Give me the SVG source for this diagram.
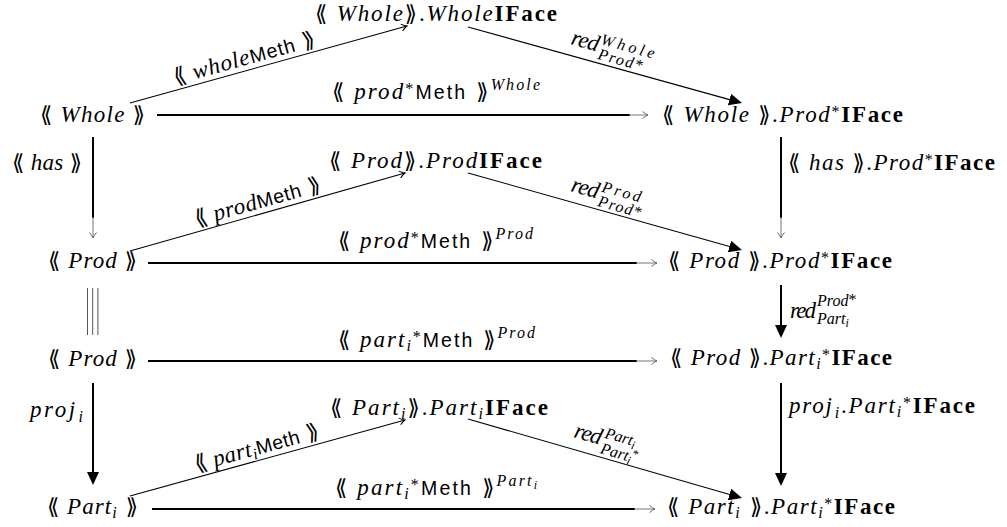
<svg xmlns="http://www.w3.org/2000/svg" width="1007" height="527" viewBox="0 0 1007 527">
<defs>
<style>
text { font-family: "Liberation Serif", "DejaVu Serif", serif; font-size: 23px; font-style: italic; fill: #000; }
.up { font-style: normal; }
.bf { font-weight: bold; font-style: normal; font-size: 23px; }
.sf { font-family: "Liberation Sans", "DejaVu Sans", sans-serif; font-style: normal; font-size: 19.5px; }
.br { font-family: "DejaVu Sans", sans-serif; font-style: normal; font-size: 22px; }
.sc { font-size: 16px; }
.ss { font-size: 12px; }
.thick { stroke: #000; stroke-width: 2; fill: none; }
.thin { stroke: #000; stroke-width: 1.1; fill: none; }
.tip { stroke: #777; stroke-width: 1; fill: none; }
.eq { stroke: #555; stroke-width: 1; }
</style>
<marker id="smallg" markerUnits="userSpaceOnUse" viewBox="-7 -5 8 10" refX="0" refY="0" markerWidth="8" markerHeight="10" orient="auto">
<path d="M-5.5,-3.5 Q-2,-0.6 0,0 Q-2,0.6 -5.5,3.5" fill="none" stroke="#666" stroke-width="1"/>
</marker>
<marker id="smallb" markerUnits="userSpaceOnUse" viewBox="-7 -5 8 10" refX="0" refY="0" markerWidth="8" markerHeight="10" orient="auto">
<path d="M-5.5,-3.5 Q-2,-0.6 0,0 Q-2,0.6 -5.5,3.5" fill="none" stroke="#000" stroke-width="1"/>
</marker>
<marker id="big" markerUnits="userSpaceOnUse" viewBox="0 -6 13 12" refX="2" refY="0" markerWidth="13" markerHeight="12" orient="auto">
<path d="M0,-6 L13,0 L0,6 z" fill="#000"/>
</marker>
</defs>

<g id="n-whole-iface"><text x="315" y="21" textLength="242"><tspan class="br">⟪</tspan> Whole<tspan class="br">⟫</tspan><tspan class="up">.</tspan>Whole<tspan class="bf">IFace</tspan></text></g>
<g id="n-whole"><text x="40" y="122" textLength="105"><tspan class="br">⟪</tspan> Whole <tspan class="br">⟫</tspan></text></g>
<g id="n-whole-prodiface"><text x="662" y="122" textLength="241"><tspan class="br">⟪</tspan> Whole <tspan class="br">⟫</tspan><tspan class="up">.</tspan>Prod<tspan class="sc up" dy="-5">*</tspan><tspan class="bf" dy="5">IFace</tspan></text></g>
<g id="n-prod-iface"><text x="329" y="168" textLength="213"><tspan class="br">⟪</tspan> Prod<tspan class="br">⟫</tspan><tspan class="up">.</tspan>Prod<tspan class="bf">IFace</tspan></text></g>
<g id="n-prod"><text x="48" y="268" textLength="89"><tspan class="br">⟪</tspan> Prod <tspan class="br">⟫</tspan></text></g>
<g id="n-prod-prodiface"><text x="668" y="268" textLength="224"><tspan class="br">⟪</tspan> Prod <tspan class="br">⟫</tspan><tspan class="up">.</tspan>Prod<tspan class="sc up" dy="-5">*</tspan><tspan class="bf" dy="5">IFace</tspan></text></g>
<g id="n-prod-2"><text x="48" y="366" textLength="89"><tspan class="br">⟪</tspan> Prod <tspan class="br">⟫</tspan></text></g>
<g id="n-prod-partiface"><text x="670" y="365" textLength="222"><tspan class="br">⟪</tspan> Prod <tspan class="br">⟫</tspan><tspan class="up">.</tspan>Part<tspan class="sc" dy="4">i</tspan><tspan class="sc up" dy="-9">*</tspan><tspan class="bf" dy="5">IFace</tspan></text></g>
<g id="n-part-iface"><text x="330" y="415" textLength="218"><tspan class="br">⟪</tspan> Part<tspan class="sc" dy="4">i</tspan><tspan class="br" dy="-4">⟫</tspan><tspan class="up">.</tspan>Part<tspan class="sc" dy="4">i</tspan><tspan class="bf" dy="-4">IFace</tspan></text></g>
<g id="n-part"><text x="47" y="514" textLength="91"><tspan class="br">⟪</tspan> Part<tspan class="sc" dy="4">i</tspan><tspan class="br" dy="-4"> ⟫</tspan></text></g>
<g id="n-part-partiface"><text x="667" y="514" textLength="228"><tspan class="br">⟪</tspan> Part<tspan class="sc" dy="4">i</tspan><tspan class="br" dy="-4"> ⟫</tspan><tspan class="up">.</tspan>Part<tspan class="sc" dy="4">i</tspan><tspan class="sc up" dy="-9">*</tspan><tspan class="bf" dy="5">IFace</tspan></text></g>

<g id="connectors">
<line class="thick" x1="157" y1="115" x2="630" y2="115"/>
<line class="tip" x1="629" y1="115" x2="648" y2="115" marker-end="url(#smallg)"/>
<line class="thick" x1="148" y1="263" x2="637" y2="263"/>
<line class="tip" x1="636" y1="263" x2="657" y2="263" marker-end="url(#smallg)"/>
<line class="thick" x1="148" y1="361" x2="637" y2="361"/>
<line class="tip" x1="636" y1="361" x2="657" y2="361" marker-end="url(#smallg)"/>
<line class="thick" x1="152" y1="509" x2="635" y2="509"/>
<line class="tip" x1="634" y1="509" x2="655" y2="509" marker-end="url(#smallg)"/>
<line class="thick" x1="93" y1="137" x2="93" y2="218"/>
<line class="tip" x1="93" y1="217" x2="93" y2="238" marker-end="url(#smallg)"/>
<line class="thick" x1="781" y1="137" x2="781" y2="218"/>
<line class="tip" x1="781" y1="217" x2="781" y2="238" marker-end="url(#smallg)"/>
<line class="eq" x1="87.5" y1="288" x2="87.5" y2="335"/>
<line class="eq" x1="92.7" y1="288" x2="92.7" y2="335"/>
<line class="eq" x1="97.9" y1="288" x2="97.9" y2="335"/>
<line class="thick" x1="93" y1="383" x2="93" y2="474" marker-end="url(#big)"/>
<line class="thick" x1="781" y1="285" x2="781" y2="327" marker-end="url(#big)"/>
<line class="thick" x1="781" y1="383" x2="781" y2="475" marker-end="url(#big)"/>
<line class="thin" x1="130" y1="103" x2="407" y2="26" marker-end="url(#smallb)"/>
<line class="thin" x1="468" y1="27" x2="731.4" y2="100.1" marker-end="url(#big)"/>
<line class="thin" x1="130" y1="251" x2="405" y2="173" marker-end="url(#smallb)"/>
<line class="thin" x1="468" y1="173" x2="731.4" y2="247" marker-end="url(#big)"/>
<line class="thin" x1="130" y1="496" x2="405" y2="420" marker-end="url(#smallb)"/>
<line class="thin" x1="468" y1="419" x2="731.4" y2="495" marker-end="url(#big)"/>
</g>

<g id="edge-labels">
<text x="332" y="99" textLength="208"><tspan class="br">⟪</tspan> prod<tspan class="sc up" dy="-5">*</tspan><tspan class="sf" dy="5">Meth</tspan><tspan class="br"> ⟫</tspan><tspan class="sc" dy="-9">Whole</tspan></text>
<text x="338" y="248" textLength="195"><tspan class="br">⟪</tspan> prod<tspan class="sc up" dy="-5">*</tspan><tspan class="sf" dy="5">Meth</tspan><tspan class="br"> ⟫</tspan><tspan class="sc" dy="-9">Prod</tspan></text>
<text x="338" y="347" textLength="197"><tspan class="br">⟪</tspan> part<tspan class="sc" dy="4">i</tspan><tspan class="sc up" dy="-9">*</tspan><tspan class="sf" dy="5">Meth</tspan><tspan class="br"> ⟫</tspan><tspan class="sc" dy="-9">Prod</tspan></text>
<text x="335" y="495" textLength="202"><tspan class="br">⟪</tspan> part<tspan class="sc" dy="4">i</tspan><tspan class="sc up" dy="-9">*</tspan><tspan class="sf" dy="5">Meth</tspan><tspan class="br"> ⟫</tspan><tspan class="sc" dy="-9">Part</tspan><tspan class="ss" dy="3">i</tspan></text>

<text x="246" y="65" text-anchor="middle" textLength="146" transform="rotate(-15.5 246 65)"><tspan class="br">⟪</tspan> whole<tspan class="sf">Meth</tspan><tspan class="br"> ⟫</tspan></text>
<text x="259.5" y="208.5" text-anchor="middle" textLength="130" transform="rotate(-15.8 259.5 208.5)"><tspan class="br">⟪</tspan> prod<tspan class="sf">Meth</tspan><tspan class="br"> ⟫</tspan></text>
<text x="258.5" y="454.5" text-anchor="middle" textLength="128" transform="rotate(-15.45 258.5 454.5)"><tspan class="br">⟪</tspan> part<tspan class="sc" dy="4">i</tspan><tspan class="sf" dy="-4">Meth</tspan><tspan class="br"> ⟫</tspan></text>

<g transform="translate(570 44) rotate(15.5)">
<text x="0" y="0" textLength="28">red</text>
<text class="sc" x="29" y="-8" textLength="55">Whole</text>
<text class="sc" x="30" y="7" textLength="46">Prod<tspan class="up">*</tspan></text>
</g>
<g transform="translate(570 191) rotate(15.7)">
<text x="0" y="0" textLength="28">red</text>
<text class="sc" x="30" y="-8" textLength="40">Prod</text>
<text class="sc" x="30" y="7" textLength="45">Prod<tspan class="up">*</tspan></text>
</g>
<g transform="translate(573 437) rotate(16.1)">
<text x="0" y="0" textLength="28">red</text>
<text class="sc" x="30" y="-8">Part<tspan class="ss" dy="3">i</tspan></text>
<text class="sc" x="30" y="8">Part<tspan class="ss" dy="3">i</tspan><tspan class="ss up" dy="-8">*</tspan></text>
</g>

<text x="790" y="318" textLength="26">red</text>
<text class="sc" x="817" y="306">Prod<tspan class="up" dy="-1">*</tspan></text>
<text class="sc" x="817" y="324">Part<tspan class="ss" dy="3">i</tspan></text>

<text x="12" y="170" textLength="70"><tspan class="br">⟪</tspan> has <tspan class="br">⟫</tspan></text>
<text x="788" y="170" textLength="207"><tspan class="br">⟪</tspan> has <tspan class="br">⟫</tspan><tspan class="up">.</tspan>Prod<tspan class="sc up" dy="-5">*</tspan><tspan class="bf" dy="5">IFace</tspan></text>
<text x="30" y="417" textLength="53">proj<tspan class="sc" dx="1" dy="5">i</tspan></text>
<text x="789" y="413" textLength="186">proj<tspan class="sc" dx="1" dy="5">i</tspan><tspan class="up" dy="-5">.</tspan>Part<tspan class="sc" dy="4">i</tspan><tspan class="sc up" dy="-9">*</tspan><tspan class="bf" dy="5">IFace</tspan></text>
</g>
</svg>
